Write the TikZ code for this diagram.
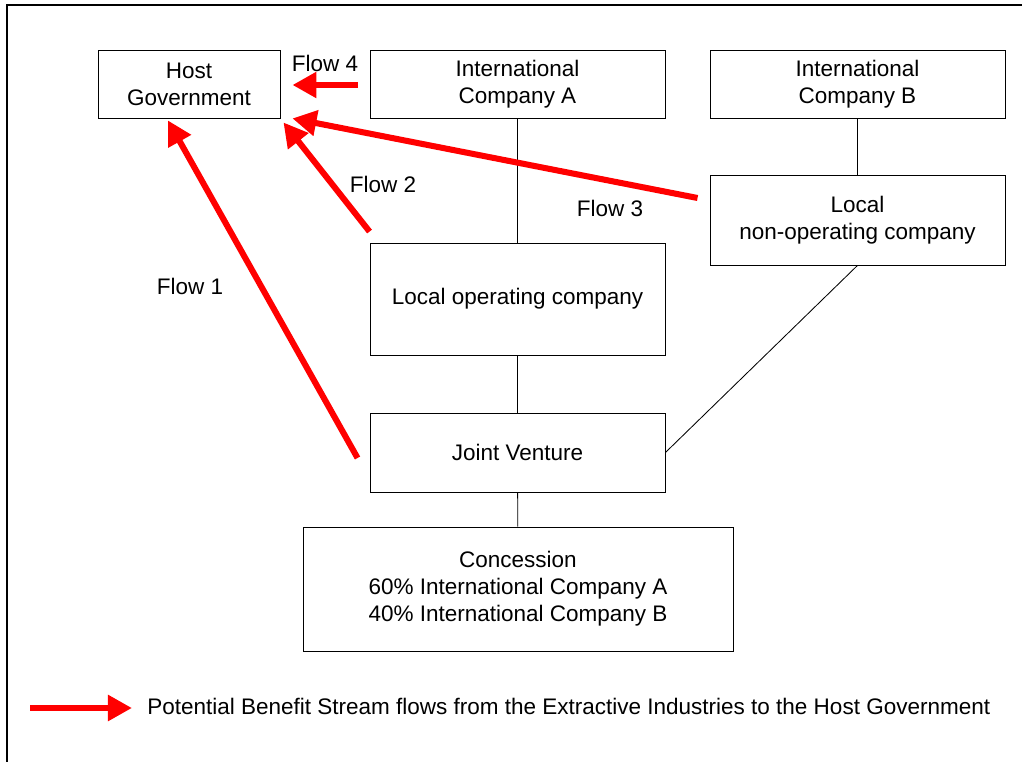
\documentclass[tikz,border=0pt]{standalone}
\usepackage{fontspec}
\setmainfont{Liberation Sans}
\usetikzlibrary{arrows.meta,calc}

\begin{document}
\begin{tikzpicture}[x=0.025cm, y=-0.025cm,
  orgbox/.style={draw, line width=0.6pt, align=center, inner sep=0pt, font=\fontsize{16}{19.2}\selectfont},
  link/.style={line width=0.6pt},
  flowarrow/.style={red, line width=4.3pt, -{Triangle[length=0.6cm, width=0.62cm]}},
  lbl/.style={font=\fontsize{16}{19.2}\selectfont}]

\useasboundingbox (0,0) rectangle (1022,762);
\draw[line width=0.8pt] (7,762) -- (7,5) -- (1022,5);

% boxes
\node[orgbox, minimum width=4.55cm, minimum height=1.7cm] (hg) at (189,84) {Host\\Government};
\node[orgbox, minimum width=7.375cm, minimum height=1.7cm] (ia) at (517.5,84) {International\\Company A};
\node[orgbox, minimum width=7.375cm, minimum height=1.7cm] (ib) at (857.5,84) {International\\Company B};
\node[orgbox, minimum width=7.375cm, minimum height=2.25cm] (lno) at (857.5,220) {Local\\non-operating company};
\node[orgbox, minimum width=7.375cm, minimum height=2.8cm] (lo) at (517.5,299) {Local operating company};
\node[orgbox, minimum width=7.375cm, minimum height=1.975cm] (jv) at (517.5,452.5) {Joint Venture};
\node[orgbox, minimum width=10.75cm, minimum height=3.1cm] (con) at (518,589) {Concession\\60\% International Company A\\40\% International Company B};

% ownership lines
\draw[link] (ia) -- (lo);
\draw[link] (ib) -- (lno);
\draw[link] (lo) -- (jv);
\draw[link] (lno.south) -- (jv.east);
\draw[link] (jv) -- (con);

% flows
\draw[flowarrow] ($(ia.west)+(-12,1)$) -- ($(hg.east)+(12,1)$);
\draw[flowarrow] ($(lno.west)+(-12,-22)$) -- ($(hg.south east)+(12,0)$);
\draw[flowarrow] ($(lo.north west)+(0,-11)$) -- ($(hg.south east)+(3,4)$);
\draw[flowarrow] ($(jv.west)+(-12,5.5)$) -- ($(hg.south)+(-21,2)$);

\node[lbl] (f4) at (325,63) {Flow 4};
\node[lbl] (f3) at (610,208) {Flow 3};
\node[lbl] (f2) at (383,184) {Flow 2};
\node[lbl] (f1) at (190,286) {Flow 1};

% legend
\node[lbl, anchor=west, inner sep=0pt] (lg) at (147,706) {Potential Benefit Stream flows from the Extractive Industries to the Host Government};
\coordinate (lgstart) at (30,708);
\draw[flowarrow] (lgstart) -- ($(lg.west)+(-15,2)$);

\end{tikzpicture}
\end{document}
